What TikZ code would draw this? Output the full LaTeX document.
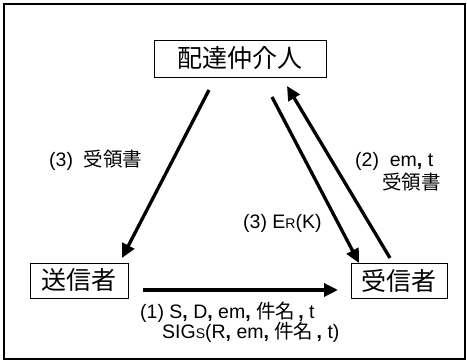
\documentclass[tikz,border=0pt]{standalone}
\usepackage{fontspec}
\setmainfont{Liberation Sans}
\newfontfamily\cjk{Noto Sans CJK JP}
\usetikzlibrary{arrows.meta}
\begin{document}
\begin{tikzpicture}[x=1pt,y=-1pt,
  box/.style={draw,line width=0.8pt,inner sep=0pt,font=\cjk\fontsize{25}{25}\selectfont},
  lbl/.style={font=\fontsize{19.5}{21}\selectfont,inner sep=0pt,anchor=base west},
  arr/.style={line width=3.3pt,-{Triangle[length=14pt,width=13pt]}}]
\useasboundingbox (0,0) rectangle (467,363);
\draw[line width=1.8pt] (4,4) rectangle (465,359);
\node[box,minimum width=172pt,minimum height=37pt] (med) at (240,58.5) {配達仲介人};
\node[box,minimum width=98pt,minimum height=35pt] (snd) at (79,280.5) {送信者};
\node[box,minimum width=96pt,minimum height=35pt] (rcv) at (399,280.5) {受信者};
\coordinate (a1s) at (209,90);  \coordinate (a1e) at (122,258);
\coordinate (a2s) at (272,97);  \coordinate (a2e) at (359,263);
\coordinate (a3s) at (390,258); \coordinate (a3e) at (287,86);
\coordinate (a4s) at (143,290); \coordinate (a4e) at (338,290);
\draw[arr] (a1s) -- (a1e);
\draw[arr] (a2s) -- (a2e);
\draw[arr] (a3s) -- (a3e);
\draw[arr] (a4s) -- (a4e);
\node[lbl] (l3a) at (49,167) {(3)\ \ {\cjk 受領書}};
\node[lbl] (l2a) at (355,167) {(2)\ \ em{\bfseries,} t};
\node[lbl] (l2b) at (382,190) {\cjk 受領書};
\node[lbl] (l3b) at (243,229) {(3) E{\fontsize{14}{14}\selectfont R}(K)};
\node[lbl] (l1a) at (140,319) {(1) S{\bfseries,} D{\bfseries,} em{\bfseries,} {\cjk 件名}{\bfseries\,,} t};
\node[lbl] (l1b) at (162,339) {SIG{\fontsize{14}{14}\selectfont S}(R{\bfseries,} em{\bfseries,} {\cjk 件名}{\bfseries\,,} t)};
\end{tikzpicture}
\end{document}
